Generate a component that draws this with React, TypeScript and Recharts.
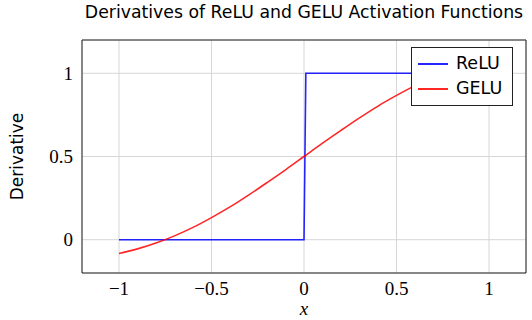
import React from 'react';
import {
  LineChart, Line, XAxis, YAxis, CartesianGrid, Legend, ReferenceArea,
} from 'recharts';

// ReLU derivative samples (step at x = 0)
const reluX = [-1, 0, 0.01, 1];
const reluY = [0, 0, 1, 1];

// GELU derivative samples
const geluX = [-1, -0.9, -0.8, -0.7, -0.6, -0.5, -0.4, -0.3, -0.2, -0.1, 0,
  0.1, 0.2, 0.3, 0.4, 0.5, 0.6, 0.7, 0.8, 0.9, 1];
const geluY = [-0.083, -0.055, -0.02, 0.023, 0.074, 0.133, 0.197, 0.268, 0.343, 0.42, 0.5,
  0.58, 0.657, 0.732, 0.803, 0.867, 0.926, 0.977, 1.02, 1.055, 1.083];

const xTicks = [-1, -0.5, 0, 0.5, 1];
const yTicks = [0, 0.5, 1];

const seriesNames = ['ReLU', 'GELU'];
const seriesColors = ['#0000ff', '#ff0000'];

const reluData = reluX.map((x, i) => ({ x, y: reluY[i] }));
const geluData = geluX.map((x, i) => ({ x, y: geluY[i] }));

const serif = '"Liberation Serif", serif';
const sans = '"DejaVu Sans", sans-serif';

const fmt = (v: number) => (v < 0 ? '\u2212' + String(-v) : String(v));

const renderLegend = () => (
  <div style={{
    border: '1px solid #222', background: '#fff', padding: '3px 8px 4px 6px',
    fontFamily: sans, fontSize: 17.5, lineHeight: '25px', boxSizing: 'border-box',
  }}>
    {seriesNames.map((n, i) => (
      <div key={n} style={{ display: 'flex', alignItems: 'center' }}>
        <span style={{ display: 'inline-block', width: 30, height: 2, background: seriesColors[i], opacity: 0.85, marginRight: 8 }} />
        <span>{n}</span>
      </div>
    ))}
  </div>
);

const App: React.FC = () => (
  <div style={{ position: 'absolute', left: 0, top: 0, width: 532, height: 320, background: '#fff' }}>
    <div style={{
      position: 'absolute', left: 82, width: 444, top: 2, textAlign: 'center',
      fontFamily: sans, fontSize: 17.3, whiteSpace: 'nowrap',
    }}>
      Derivatives of ReLU and GELU Activation Functions
    </div>
    <LineChart width={532} height={320} margin={{ top: 40, right: 6, bottom: 0, left: 0 }}>
      <CartesianGrid stroke="#d6d6d6" strokeWidth={1} />
      <XAxis
        dataKey="x" type="number" domain={[-1.2, 1.2]} ticks={xTicks} height={47}
        allowDataOverflow axisLine={false} tickLine={false} tickSize={0} tickMargin={9}
        tickFormatter={fmt}
        tick={{ fill: '#000', fontFamily: serif, fontSize: 19 }}
        label={({ viewBox }: any) => (
          <text x={viewBox.x + viewBox.width / 2} y={315} textAnchor="middle"
            fontFamily={serif} fontStyle="italic" fontSize={19} fill="#000">x</text>
        )}
      />
      <YAxis
        type="number" domain={[-0.2, 1.2]} ticks={yTicks} width={82}
        allowDataOverflow axisLine={false} tickLine={false} tickSize={0} tickMargin={9}
        tickFormatter={fmt}
        tick={{ fill: '#000', fontFamily: serif, fontSize: 19 }}
        label={({ viewBox }: any) => (
          <text x={23} y={viewBox.y + viewBox.height / 2} textAnchor="middle"
            transform={`rotate(-90 23 ${viewBox.y + viewBox.height / 2})`}
            fontFamily={sans} fontSize={17} fill="#000">Derivative</text>
        )}
      />
      <ReferenceArea x1={-1.2} x2={1.2} y1={-0.2} y2={1.2} fill="none" stroke="#222" strokeWidth={1} ifOverflow="visible" />
      <Line data={reluData} dataKey="y" name={seriesNames[0]} type="linear" stroke={seriesColors[0]}
        strokeWidth={1.6} strokeOpacity={0.85} dot={false} isAnimationActive={false} />
      <Line data={geluData} dataKey="y" name={seriesNames[1]} type="monotone" stroke={seriesColors[1]}
        strokeWidth={1.6} strokeOpacity={0.85} dot={false} isAnimationActive={false} />
      <Legend layout="horizontal" verticalAlign="middle" align="center" content={renderLegend}
        wrapperStyle={{ top: 47, left: 411, width: 102, height: 57 }} />
    </LineChart>
  </div>
);

export default App;
